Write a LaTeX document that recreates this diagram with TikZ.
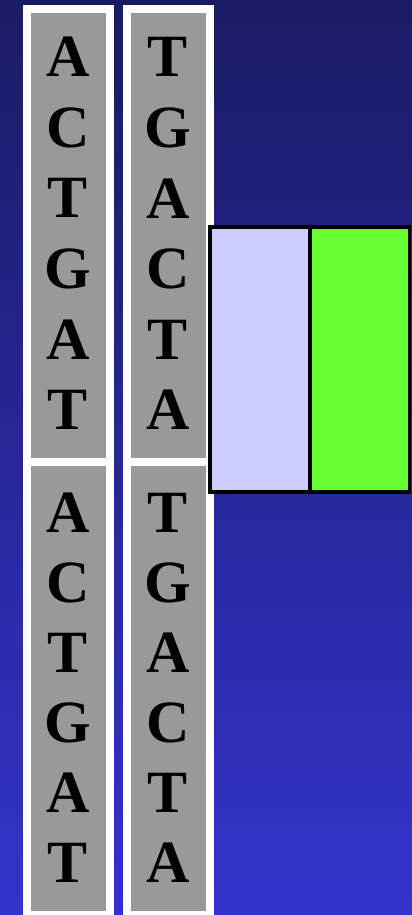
\documentclass[tikz,border=0pt]{standalone}
\usepackage{fontspec}
\setmainfont{Liberation Serif}
\definecolor{slidetop}{RGB}{26, 26, 100}
\definecolor{slidebottom}{RGB}{51, 51, 204}
\definecolor{stripgray}{RGB}{153, 153, 153}
\definecolor{primerblue}{RGB}{204, 204, 255}
\definecolor{dyegreen}{RGB}{102, 255, 51}
\usetikzlibrary{positioning}
\tikzset{
  strand/.style={draw=white, fill=stripgray, line width=8pt, inner sep=0pt,
    minimum width=83pt, minimum height=453pt},
  base/.style={font=\fontsize{60}{60}\selectfont\bfseries, inner sep=0pt},
  tag/.style={draw=black, line width=3.5pt, inner sep=0pt, outer sep=0pt,
    minimum height=265pt}
}

\begin{document}
\begin{tikzpicture}[x=1pt, y=-1pt]
  \useasboundingbox (0,0) rectangle (412,915);
  \shade[top color=slidetop, bottom color=slidebottom] (0,0) rectangle (412,915);

  % the two double strands
  \node[strand] (leftup) at (68.5,235.5) {};
  \node[strand] (rightup) at (168.5,235.5) {};
  \node[strand] (leftlow) at (68.5,688) {};
  \node[strand] (rightlow) at (168.5,688) {};

  \foreach \b [count=\i from 0] in {A,C,T,G,A,T}
    \node[base] (lu\i) at (68,57+70.6*\i) {\b};
  \foreach \b [count=\i from 0] in {T,G,A,C,T,A}
    \node[base] (ru\i) at (168,57+70.6*\i) {\b};
  \foreach \b [count=\i from 0] in {A,C,T,G,A,T}
    \node[base] (ll\i) at (68,513+70*\i) {\b};
  \foreach \b [count=\i from 0] in {T,G,A,C,T,A}
    \node[base] (rl\i) at (168,513+70*\i) {\b};

  % label boxes
  \node[tag, fill=primerblue, minimum width=100pt] (primer) at (260,359.5) {};
  \node[tag, fill=dyegreen, minimum width=99.5pt, right=0pt of primer] (dye) {};
\end{tikzpicture}
\end{document}
